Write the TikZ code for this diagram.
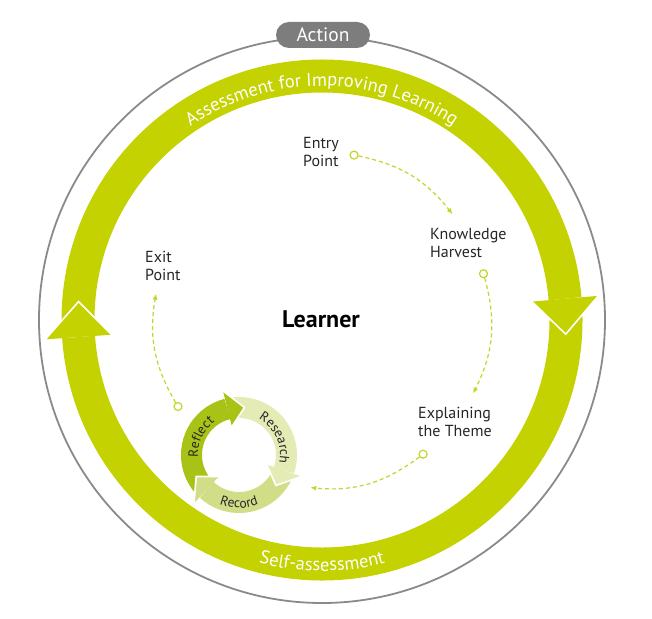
\documentclass[tikz,border=0pt]{standalone}
\usepackage{fontspec}
\setmainfont{PT Sans}
\usetikzlibrary{arrows.meta, decorations.text}

\definecolor{ringgreen}{RGB}{195,210,0}
\definecolor{reflectgreen}{RGB}{168,194,22}
\definecolor{recordgreen}{RGB}{210,222,135}
\definecolor{researchgreen}{RGB}{228,235,180}
\definecolor{actiongrey}{RGB}{125,125,125}
\definecolor{dashgreen}{RGB}{196,212,40}

\newcommand\ringtext{\fontsize{18.5}{22}\selectfont\color{white}}
\newcommand\cycletext{\fontsize{13.5}{16}\selectfont\color{black!85}}
% arrow head on a band: colour, mid radius, half width, base angle, tip angle
\newcommand\bandhead[5]{%
  \draw[white, line width = 3.5pt, miter limit = 10] ({#4}:{#2-#3}) -- ({#5}:{#2}) -- ({#4}:{#2+#3});
  \fill[#1] ({#4}:{#2-#3}) -- ({#5}:{#2}) -- ({#4}:{#2+#3}) -- cycle;}

\begin{document}
\begin{tikzpicture}[x = 1pt, y = 1pt,
    band/.style = {line width = 33pt},
    cycleband/.style = {line width = 21pt},
    stage/.style = {anchor = west, align = left, inner sep = 0pt,
      font = \fontsize{16}{18.5}\selectfont, text = black!85},
    dot/.style = {circle, draw = dashgreen, fill = white, line width = 1.2pt,
      minimum size = 8pt, inner sep = 0pt},
    link/.style = {dashgreen, line width = 1.2pt, dash pattern = on 4pt off 3pt,
      -{Latex[length = 6pt, width = 5pt]}}]
  \useasboundingbox (-322,-298) rectangle (330,320);

  % outer circle
  \draw[actiongrey!90, line width = 1.8pt] (0,0) circle[radius = 283];
  \node[fill = actiongrey, text = white, rounded corners = 13pt, minimum width = 94pt,
    minimum height = 26pt, font = \fontsize{19.5}{22}\selectfont] (action) at (1,285) {Action};

  % assessment ring
  \draw[ringgreen, band] (180:244) arc[start angle = 180, end angle = 5, radius = 244];
  \draw[ringgreen, band] (1:244) arc[start angle = 1, end angle = -176, radius = 244];
  \bandhead{ringgreen}{244}{32}{5}{-3}
  \bandhead{ringgreen}{244}{32}{184}{176}
  \path[decorate, decoration = {text along path, text align = center,
      text = {|\ringtext|Assessment for Improving Learning}}]
    (150:234) arc[start angle = 150, end angle = 30, radius = 234];
  \path[decorate, decoration = {text along path, text align = center,
      text = {|\ringtext|Self-assessment}}]
    (235:251) arc[start angle = 235, end angle = 305, radius = 251];

  \node[font = \fontsize{24}{28}\selectfont\bfseries] (learner) at (-1,1) {Learner};

  % stages
  \node[stage] (entry) at (-19,168) {Entry\\Point};
  \node[stage] (harvest) at (108,77) {Knowledge\\Harvest};
  \node[stage] (theme) at (96,-102) {Explaining\\the Theme};
  \node[stage] (exit) at (-177,54) {Exit\\Point};

  \node[dot] (d1) at (79:168) {};
  \coordinate (a1) at (39:168);
  \node[dot] (d2) at (16:168) {};
  \coordinate (a2) at (-26:168);
  \node[dot] (d3) at (-53:168) {};
  \coordinate (a3) at (-94:168);
  \node[dot] (d4) at (211:168) {};
  \coordinate (a4) at (171:168);
  \draw[link] (d1) to[bend left = 20] (a1);
  \draw[link] (d2) to[bend left = 21] (a2);
  \draw[link] (d3) to[bend left = 21] (a3);
  \draw[link] (d4) to[bend left = 20] (a4);

  % research cycle
  \begin{scope}[shift = {(-83,-135)}]
    \draw[reflectgreen, cycleband] (220:47.5) arc[start angle = 220, end angle = 104, radius = 47.5];
    \draw[researchgreen, cycleband] (97:47.5) arc[start angle = 97, end angle = -19, radius = 47.5];
    \draw[recordgreen, cycleband] (-26:47.5) arc[start angle = -26, end angle = -133, radius = 47.5];
    \bandhead{reflectgreen}{47.5}{17}{104}{85}
    \bandhead{researchgreen}{47.5}{17}{-19}{-38}
    \bandhead{recordgreen}{47.5}{17}{-133}{-152}
    \path[decorate, decoration = {text along path, text align = center,
        text = {|\cycletext|Reflect}}]
      (205:41) arc[start angle = 205, end angle = 105, radius = 41];
    \path[decorate, decoration = {text along path, text align = center,
        text = {|\cycletext|Research}}]
      (75:41) arc[start angle = 75, end angle = -25, radius = 41];
    \path[decorate, decoration = {text along path, text align = center,
        text = {|\cycletext|Record}}]
      (235:53) arc[start angle = 235, end angle = 305, radius = 53];
  \end{scope}
\end{tikzpicture}
\end{document}
